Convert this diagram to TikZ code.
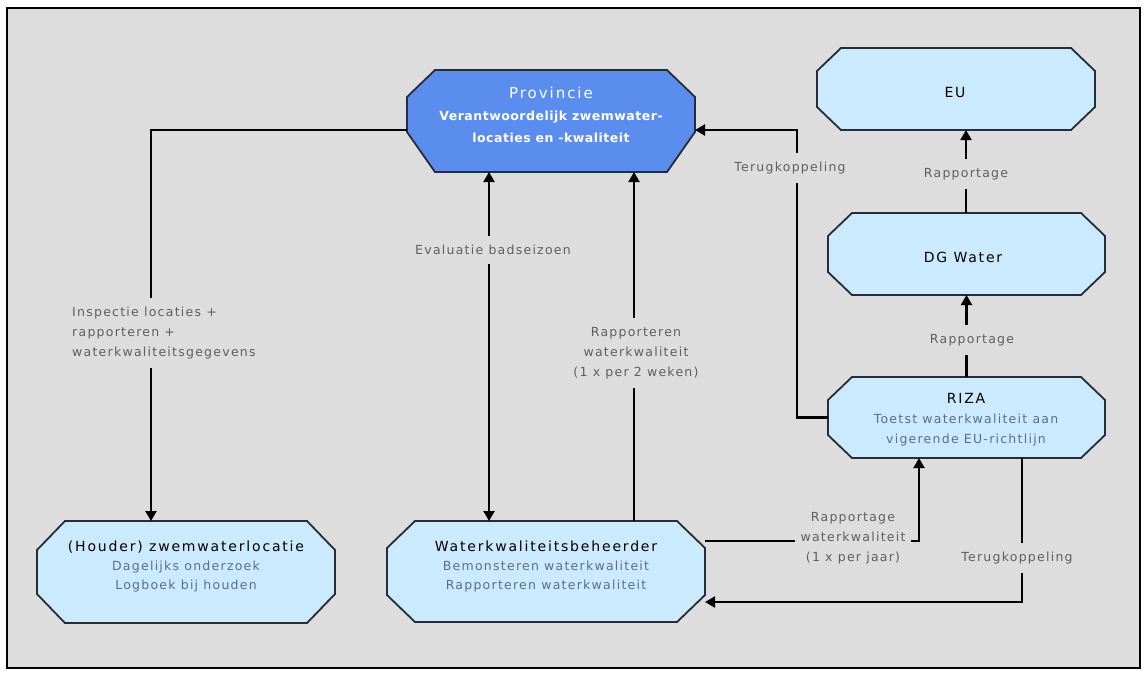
\documentclass[tikz,border=0pt]{standalone}
\usepackage{fontspec}
\setmainfont{DejaVu Sans}
\newfontfamily\lblfam[LetterSpace=10]{DejaVu Sans}
\newfontfamily\ttlfam[LetterSpace=13]{DejaVu Sans}
\newfontfamily\bldfam[LetterSpace=4]{DejaVu Sans}
\usetikzlibrary{arrows.meta,backgrounds}
\definecolor{bgc}{RGB}{221,221,221}
\definecolor{lightfill}{RGB}{204,234,254}
\definecolor{provfill}{RGB}{91,141,239}
\definecolor{edgec}{RGB}{40,44,56}
\definecolor{subc}{RGB}{90,110,140}
\definecolor{lblc}{RGB}{95,95,95}
\newcommand\octo[5]{%
\path[#1] ([xshift=#3]#2.north west) -- ([xshift=-#3]#2.north east) -- ([yshift=-#4]#2.north east) -- ([yshift=#5]#2.south east) -- ([xshift=-#3]#2.south east) -- ([xshift=#3]#2.south west) -- ([yshift=#5]#2.south west) -- ([yshift=-#4]#2.north west) -- cycle;}
\newcommand\ttl[1]{{\ttlfam\fontsize{14}{19}\selectfont\color{black}#1}}
\begin{document}
\begin{tikzpicture}[x=1pt,y=-1pt,
  >={Triangle[length=10pt,width=11pt]},
  box/.style={draw=none,inner sep=0pt,outer sep=0pt},
  octshape/.style={fill=lightfill,draw=edgec,line width=1.8pt,line join=miter},
  provshape/.style={fill=provfill,draw=edgec,line width=1.8pt,line join=miter},
  conn/.style={draw=black,line width=2.1pt},
  lbl/.style={fill=bgc,text=lblc,font=\lblfam\fontsize{12.5}{20}\selectfont,inner xsep=4pt,inner ysep=9pt,align=center},
  txt/.style={text=subc,font=\lblfam\fontsize{12.5}{19}\selectfont,align=center,inner sep=0pt}]
\useasboundingbox (0,0) rectangle (1147,675);
% shape boxes
\node[box,minimum width=288pt,minimum height=102pt] (prov) at (551,121) {};
\node[box,minimum width=278pt,minimum height=82pt] (eu) at (956,89) {};
\node[box,minimum width=277pt,minimum height=82pt] (dg) at (966.5,254) {};
\node[box,minimum width=277pt,minimum height=81pt] (riza) at (966.5,417.5) {};
\node[box,minimum width=298pt,minimum height=102pt] (houder) at (186,572) {};
\node[box,minimum width=318pt,minimum height=101pt] (wkb) at (546,571.5) {};
\begin{pgfonlayer}{background}
\fill[bgc] (7,8) rectangle (1140,668);
\draw[line width=2pt,black] (7,8) rectangle (1140,668);
\octo{provshape}{prov}{28pt}{27pt}{40pt}
\octo{octshape}{eu}{24pt}{23pt}{23pt}
\octo{octshape}{dg}{24pt}{23pt}{23pt}
\octo{octshape}{riza}{24pt}{23pt}{23pt}
\octo{octshape}{houder}{28pt}{29pt}{29pt}
\octo{octshape}{wkb}{28pt}{27pt}{27pt}
\end{pgfonlayer}
% texts
\node[txt,text=white,font=\bldfam\bfseries\fontsize{12.5}{22}\selectfont] (provt) at (551,115)
  {{\ttlfam\mdseries\fontsize{15}{22}\selectfont Provincie}\\ Verantwoordelijk zwemwater-\\ locaties en -kwaliteit};
\node[txt] (eut) at (955,92) {\ttl{EU}};
\node[txt] (dgt) at (963,257) {\ttl{DG Water}};
\node[txt,font=\lblfam\fontsize{12.5}{20}\selectfont] (rizat) at (966,420)
  {\ttl{RIZA}\\ Toetst waterkwaliteit aan\\ vigerende EU-richtlijn};
\node[txt] (houdert) at (186,566)
  {\ttl{(Houder) zwemwaterlocatie}\\ Dagelijks onderzoek\\ Logboek bij houden};
\node[txt] (wkbt) at (546,566)
  {\ttl{Waterkwaliteitsbeheerder}\\ Bemonsteren waterkwaliteit\\ Rapporteren waterkwaliteit};
% connectors
\draw[conn,->] ([yshift=-9pt]prov.west) -| ([xshift=-35pt]houder.north);
\draw[conn,<->] ([xshift=-57pt]wkb.north) -- ([xshift=-62pt]prov.south);
\draw[conn,->] ([xshift=88pt]wkb.north) -- ([xshift=83pt]prov.south);
\draw[conn,->] (riza.west) -- ++(-31,0) |- ([yshift=-9pt]prov.east);
\draw[conn,->] ([xshift=-0.5pt]dg.north) -- ([xshift=10pt]eu.south);
\draw[conn,->] (riza.north) -- (dg.south);
\draw[conn,->] ([yshift=30.5pt]wkb.east) -| ([xshift=-47.5pt]riza.south);
\draw[conn,->] ([xshift=55.5pt]riza.south) |- ([yshift=-30.5pt]wkb.east);
% labels
\node[lbl,anchor=west,align=left,inner xsep=2pt] (l1) at (70,333) {Inspectie locaties +\\ rapporteren +\\ waterkwaliteitsgegevens};
\node[lbl] (l2) at (493,250) {Evaluatie badseizoen};
\node[lbl] (l3) at (636,353) {Rapporteren\\ waterkwaliteit\\ (1 x per 2 weken)};
\node[lbl] (l4) at (790,168) {Terugkoppeling};
\node[lbl] (l5) at (966,174) {Rapportage};
\node[lbl] (l6) at (972,340) {Rapportage};
\node[lbl,inner xsep=6pt,inner ysep=3pt] (l7) at (853,538) {Rapportage\\ waterkwaliteit\\ (1 x per jaar)};
\node[lbl] (l8) at (1017,558) {Terugkoppeling};
\end{tikzpicture}
\end{document}
